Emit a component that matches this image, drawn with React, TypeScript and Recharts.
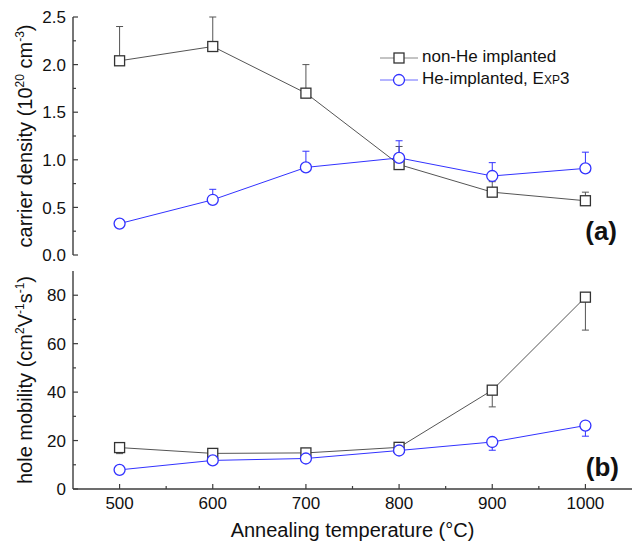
import React from 'react';
import { LineChart, Line, XAxis, YAxis, ErrorBar, ReferenceArea, Legend } from 'recharts';

const FONT = '"Liberation Sans", Arial, Helvetica, sans-serif';
const AXIS = '#3c3c3c';
const BLACK = '#333333';
const BLUE = '#3232ff';

// annealing temperatures (°C)
const temps = [500, 600, 700, 800, 900, 1000];

// (a) carrier density, 10^20 cm^-3 ; error bars as [minus, plus]
const densityNonHe = [2.04, 2.19, 1.7, 0.95, 0.66, 0.57];
const densityNonHeErr = [[0.03, 0.36], [0.03, 0.31], [0.03, 0.3], [0.02, 0.19], [0.02, 0.11], [0.02, 0.09]];
const densityHe = [0.33, 0.58, 0.92, 1.02, 0.83, 0.91];
const densityHeErr = [[0.01, 0.01], [0.01, 0.11], [0.01, 0.17], [0.01, 0.18], [0.01, 0.14], [0.01, 0.17]];

// (b) hole mobility, cm2/Vs
const mobilityNonHe = [17.1, 14.7, 14.9, 17.2, 40.8, 79.2];
const mobilityNonHeErr = [[2.5, 0.8], [2.0, 0.8], [2.0, 0.8], [2.0, 0.8], [6.9, 1.0], [13.6, 1.0]];
const mobilityHe = [7.9, 11.8, 12.6, 15.9, 19.4, 26.2];
const mobilityHeErr = [[1.5, 0.5], [1.2, 0.5], [1.2, 0.5], [1.5, 0.5], [3.4, 1.0], [4.4, 1.0]];

const xTicks = [500, 550, 600, 650, 700, 750, 800, 850, 900, 950, 1000];
const xMajor = [500, 600, 700, 800, 900, 1000];
const densityTicks = [0, 0.25, 0.5, 0.75, 1, 1.25, 1.5, 1.75, 2, 2.25, 2.5];
const densityMajor = [0, 0.5, 1, 1.5, 2, 2.5];
const mobilityTicks = [0, 10, 20, 30, 40, 50, 60, 70, 80];
const mobilityMajor = [0, 20, 40, 60, 80];

const densityRows = temps.map((t, i) => ({
  temp: t,
  nonHe: densityNonHe[i],
  nonHeErr: densityNonHeErr[i],
  he: densityHe[i],
  heErr: densityHeErr[i],
}));

const mobilityRows = temps.map((t, i) => ({
  temp: t,
  nonHe: mobilityNonHe[i],
  nonHeErr: mobilityNonHeErr[i],
  he: mobilityHe[i],
  heErr: mobilityHeErr[i],
}));

type Side = 'bottom' | 'top' | 'left' | 'right';

// inward ticks, longer for majors; labels only where fmt is given
const makeTick = (side: Side, majors: number[], fmt?: (v: number) => string) => (props: any) => {
  const { x, y, payload } = props;
  const v = payload.value;
  const major = majors.includes(v);
  const len = major ? 5 : 3;
  let line = null;
  if (side === 'bottom') line = <line x1={x} x2={x} y1={y} y2={y - len} />;
  if (side === 'top') line = <line x1={x} x2={x} y1={y} y2={y + len} />;
  if (side === 'left') line = <line x1={x} x2={x + len} y1={y} y2={y} />;
  if (side === 'right') line = <line x1={x} x2={x - len} y1={y} y2={y} />;
  let label = null;
  if (major && fmt) {
    label =
      side === 'bottom' ? (
        <text x={x} y={y + 20} textAnchor="middle" fontSize={17} fill="#111" fontFamily={FONT}>
          {fmt(v)}
        </text>
      ) : (
        <text x={x - 7} y={y} dy="0.36em" textAnchor="end" fontSize={17} fill="#111" fontFamily={FONT}>
          {fmt(v)}
        </text>
      );
  }
  return (
    <g>
      <g stroke={AXIS} strokeWidth={1.2}>{line}</g>
      {label}
    </g>
  );
};

const SquareDot = (p: any) => {
  if (p.cx == null || p.cy == null) return null;
  return (
    <rect key={`sq-${p.index}`} x={p.cx - 5} y={p.cy - 5} width={10} height={10} fill="#fff" stroke={BLACK} strokeWidth={1.3} />
  );
};

const densityTitle = (p: any) => {
  const vb = p.viewBox || {};
  const cx = 32;
  const cy = vb.y + vb.height / 2;
  return (
    <text x={cx} y={cy} transform={`rotate(-90 ${cx} ${cy})`} textAnchor="middle" fontSize={20} fill="#111" fontFamily={FONT}>
      carrier density (10<tspan dy={-8} fontSize={12}>20</tspan>
      <tspan dy={8}> cm</tspan>
      <tspan dy={-8} fontSize={12}>-3</tspan>
      <tspan dy={8}>)</tspan>
    </text>
  );
};

const mobilityTitle = (p: any) => {
  const vb = p.viewBox || {};
  const cx = 32;
  const cy = vb.y + vb.height / 2;
  return (
    <text x={cx} y={cy} transform={`rotate(-90 ${cx} ${cy})`} textAnchor="middle" fontSize={20} fill="#111" fontFamily={FONT}>
      hole mobility (cm<tspan dy={-8} fontSize={12}>2</tspan>
      <tspan dy={8}>V</tspan>
      <tspan dy={-8} fontSize={12}>-1</tspan>
      <tspan dy={8}>s</tspan>
      <tspan dy={-8} fontSize={12}>-1</tspan>
      <tspan dy={8}>)</tspan>
    </text>
  );
};

const tempTitle = (p: any) => {
  const vb = p.viewBox || {};
  return (
    <text x={vb.x + vb.width / 2} y={vb.y + 48} textAnchor="middle" fontSize={20} fill="#111" fontFamily={FONT}>
      Annealing temperature (°C)
    </text>
  );
};

const LegendIcon = ({ kind }: { kind: 'square' | 'circle' }) => (
  <svg width={38} height={14} style={{ verticalAlign: 'middle', marginRight: 4 }}>
    <line x1={0} x2={38} y1={7} y2={7} stroke={kind === 'square' ? '#888' : '#6a6aff'} strokeWidth={1} />
    {kind === 'square' ? (
      <rect x={14} y={2} width={10} height={10} fill="#fff" stroke={BLACK} strokeWidth={1.3} />
    ) : (
      <circle cx={19} cy={7} r={5.5} fill="#fff" stroke={BLUE} strokeWidth={1.3} />
    )}
  </svg>
);

const renderLegend = () => (
  <div style={{ fontFamily: FONT, fontSize: 17, color: '#111', lineHeight: '22px', whiteSpace: 'nowrap' }}>
    <div>
      <LegendIcon kind="square" />
      non-He implanted
    </div>
    <div>
      <LegendIcon kind="circle" />
      He-implanted, E<span style={{ fontSize: 12 }}>XP</span>3
    </div>
  </div>
);

const fmtX = (v: number) => String(v);
const fmtDensity = (v: number) => v.toFixed(1);
const fmtMobility = (v: number) => String(v);

export default function App() {
  return (
    <div style={{ position: 'absolute', left: 0, top: 0, width: 633, height: 546, background: '#fff', fontFamily: FONT }}>
      <div style={{ position: 'absolute', left: 0, top: 0 }}>
        <LineChart width={633} height={272} data={densityRows} margin={{ top: 17, right: 1, bottom: 17, left: 0 }}>
          <XAxis xAxisId="b" dataKey="temp" type="number" domain={[450, 1050]} ticks={xTicks} interval={0}
            height={0} tickSize={0} tickMargin={0} stroke={AXIS} strokeWidth={1.4} tickLine={false}
            tick={makeTick('bottom', xMajor)} allowDataOverflow />
          <XAxis xAxisId="t" dataKey="temp" orientation="top" type="number" domain={[450, 1050]} ticks={xTicks} interval={0}
            height={0} tickSize={0} tickMargin={0} stroke={AXIS} strokeWidth={1.4} tickLine={false}
            tick={makeTick('top', xMajor)} allowDataOverflow />
          <YAxis yAxisId="l" type="number" domain={[0, 2.5]} ticks={densityTicks} interval={0} width={73}
            tickSize={0} tickMargin={0} stroke={AXIS} strokeWidth={1.4} tickLine={false}
            tick={makeTick('left', densityMajor, fmtDensity)} allowDataOverflow label={densityTitle} />
          <YAxis yAxisId="r" orientation="right" type="number" domain={[0, 2.5]} ticks={densityTicks} interval={0} width={0}
            tickSize={0} tickMargin={0} stroke={AXIS} strokeWidth={1.4} tickLine={false}
            tick={makeTick('right', densityMajor)} allowDataOverflow />
          <ReferenceArea xAxisId="b" yAxisId="l" x1={450} x2={1050} y1={0} y2={2.5} fill="none" stroke="none"
            label={{ value: '(a)', position: 'insideBottomRight', offset: 15, fontSize: 26, fontWeight: 'bold', fill: '#111', fontFamily: FONT }} />
          <Legend layout="vertical" verticalAlign="middle" align="center" content={renderLegend}
            wrapperStyle={{ left: 380, top: 46, width: 'auto' }} />
          <Line xAxisId="b" yAxisId="l" dataKey="nonHe" stroke="#555" strokeWidth={1} isAnimationActive={false}
            dot={SquareDot} activeDot={false} />
          <Line xAxisId="b" yAxisId="l" dataKey="he" stroke={BLUE} strokeWidth={1} isAnimationActive={false}
            dot={{ r: 5.5, fill: '#fff', stroke: BLUE, strokeWidth: 1.3 }} activeDot={false} />
          <Line xAxisId="t" yAxisId="r" dataKey="nonHe" stroke="none" dot={false} activeDot={false} isAnimationActive={false}>
            <ErrorBar dataKey="nonHeErr" direction="y" width={3.5} stroke="#555" strokeWidth={1} />
          </Line>
          <Line xAxisId="t" yAxisId="r" dataKey="he" stroke="none" dot={false} activeDot={false} isAnimationActive={false}>
            <ErrorBar dataKey="heErr" direction="y" width={3.5} stroke={BLUE} strokeWidth={1} />
          </Line>
        </LineChart>
      </div>
      <div style={{ position: 'absolute', left: 0, top: 262 }}>
        <LineChart width={633} height={284} data={mobilityRows} margin={{ top: 9, right: 1, bottom: 0, left: 0 }}>
          <XAxis xAxisId="b" dataKey="temp" type="number" domain={[450, 1050]} ticks={xTicks} interval={0}
            height={57} tickSize={0} tickMargin={0} stroke={AXIS} strokeWidth={1.4} tickLine={false}
            tick={makeTick('bottom', xMajor, fmtX)} allowDataOverflow label={tempTitle} />
          <XAxis xAxisId="t" dataKey="temp" orientation="top" type="number" domain={[450, 1050]} ticks={xTicks} interval={0}
            height={0} tickSize={0} tickMargin={0} stroke={AXIS} strokeWidth={1.4} tickLine={false}
            tick={makeTick('top', xMajor)} allowDataOverflow />
          <YAxis yAxisId="l" type="number" domain={[0, 90]} ticks={mobilityTicks} interval={0} width={73}
            tickSize={0} tickMargin={0} stroke={AXIS} strokeWidth={1.4} tickLine={false}
            tick={makeTick('left', mobilityMajor, fmtMobility)} allowDataOverflow label={mobilityTitle} />
          <YAxis yAxisId="r" orientation="right" type="number" domain={[0, 90]} ticks={mobilityTicks} interval={0} width={0}
            tickSize={0} tickMargin={0} stroke={AXIS} strokeWidth={1.4} tickLine={false}
            tick={makeTick('right', mobilityMajor)} allowDataOverflow />
          <ReferenceArea xAxisId="b" yAxisId="l" x1={450} x2={1050} y1={0} y2={90} fill="none" stroke="none"
            label={{ value: '(b)', position: 'insideBottomRight', offset: 13, fontSize: 26, fontWeight: 'bold', fill: '#111', fontFamily: FONT }} />
          <Line xAxisId="b" yAxisId="l" dataKey="nonHe" stroke="#555" strokeWidth={1} isAnimationActive={false}
            dot={SquareDot} activeDot={false} />
          <Line xAxisId="b" yAxisId="l" dataKey="he" stroke={BLUE} strokeWidth={1} isAnimationActive={false}
            dot={{ r: 5.5, fill: '#fff', stroke: BLUE, strokeWidth: 1.3 }} activeDot={false} />
          <Line xAxisId="t" yAxisId="r" dataKey="nonHe" stroke="none" dot={false} activeDot={false} isAnimationActive={false}>
            <ErrorBar dataKey="nonHeErr" direction="y" width={3.5} stroke="#555" strokeWidth={1} />
          </Line>
          <Line xAxisId="t" yAxisId="r" dataKey="he" stroke="none" dot={false} activeDot={false} isAnimationActive={false}>
            <ErrorBar dataKey="heErr" direction="y" width={3.5} stroke={BLUE} strokeWidth={1} />
          </Line>
        </LineChart>
      </div>
    </div>
  );
}
